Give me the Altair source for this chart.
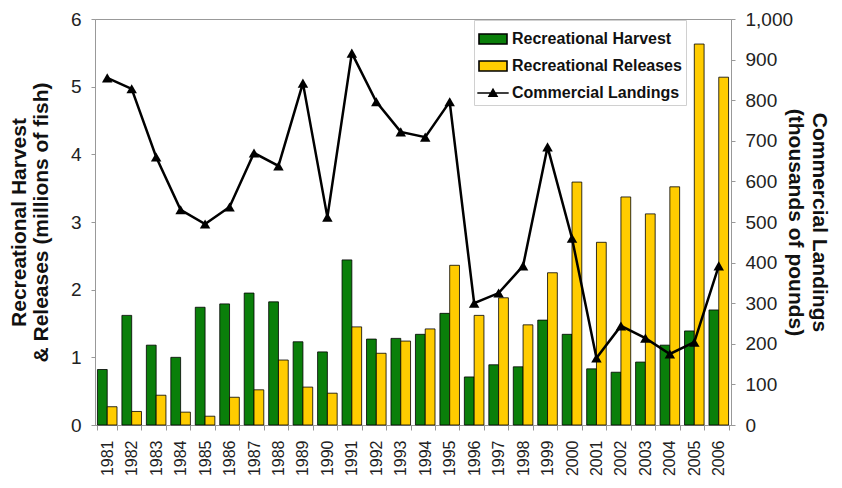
import altair as alt
import pandas as pd

years = [str(y) for y in range(1981, 2007)]
harvest = [0.82, 1.62, 1.18, 1.00, 1.74, 1.79, 1.95, 1.82, 1.23, 1.08, 2.44, 1.27, 1.28,
           1.34, 1.65, 0.71, 0.89, 0.86, 1.55, 1.34, 0.83, 0.78, 0.93, 1.18, 1.39, 1.70]
releases = [0.27, 0.20, 0.44, 0.19, 0.13, 0.41, 0.52, 0.96, 0.56, 0.47, 1.45, 1.06, 1.24,
            1.42, 2.36, 1.62, 1.88, 1.48, 2.25, 3.59, 2.70, 3.37, 3.12, 3.52, 5.63, 5.14]
commercial = [855, 828, 660, 530, 495, 537, 670, 638, 842, 512, 916, 796, 722,
              709, 796, 300, 325, 392, 685, 460, 165, 244, 214, 175, 204, 392]

series = ["Recreational Harvest", "Recreational Releases", "Commercial Landings"]
colors = ["#0a7f0a", "#ffcc00", "#000000"]
rect_path = "M-1,-0.36L1,-0.36L1,0.36L-1,0.36Z"
line_path = "M-1.12,0L1.12,0M-0.28,0.22L0,-0.26L0.28,0.22Z"
shapes = [rect_path, rect_path, line_path]

bars_df = pd.DataFrame({
    "year": years * 2,
    "series": [series[0]] * len(years) + [series[1]] * len(years),
    "value": harvest + releases,
})
line_df = pd.DataFrame({"year": years, "series": series[2], "landings": commercial})

FONT = "Liberation Sans"

x_enc = alt.X("year:O", title=None,
              scale=alt.Scale(paddingInner=0.2, paddingOuter=0.1),
              axis=alt.Axis(labelAngle=-90, labelFontSize=16, labelColor="#222",
                            tickBand="extent", tickSize=5, tickColor="#999",
                            domainColor="#999", labelPadding=10))

legend = alt.Legend(title=None, orient="none", legendX=379, legendY=1,
                    fillColor="white", strokeColor="#d0d0d0", padding=4,
                    labelFontSize=16, labelFontWeight="bold", labelFont=FONT,
                    labelColor="#111", labelLimit=400, symbolSize=784, rowPadding=3,
                    labelOffset=4, symbolStrokeColor="black", symbolStrokeWidth=1.6,
                    symbolOpacity=1)

bars = alt.Chart(bars_df).mark_bar(stroke="black", strokeWidth=0.8).encode(
    x=x_enc,
    xOffset=alt.XOffset("series:N", scale=alt.Scale(domain=series[:2])),
    y=alt.Y("value:Q", scale=alt.Scale(domain=[0, 6]),
            axis=alt.Axis(orient="left", values=[0, 1, 2, 3, 4, 5, 6], grid=False,
                          title=["Recreational Harvest", "& Releases (millions of fish)"],
                          titleFontSize=21, titleFontWeight="bold", titleFont=FONT,
                          titleColor="#111", titlePadding=19, titleLineHeight=22,
                          labelFontSize=19, labelColor="#222", labelPadding=10,
                          tickSize=4, tickColor="#999", domainColor="#999")),
    fill=alt.Fill("series:N", scale=alt.Scale(domain=series, range=colors), legend=legend),
)

line = alt.Chart(line_df).mark_line(
    color="black", strokeWidth=2.5,
    point=alt.OverlayMarkDef(shape="triangle-up", filled=True, color="black", size=110),
).encode(
    x=alt.X("year:O"),
    y=alt.Y("landings:Q", scale=alt.Scale(domain=[0, 1000]),
            axis=alt.Axis(orient="right", values=list(range(0, 1001, 100)), format=",.0f",
                          grid=False,
                          title=["Commercial Landings", "(thousands of pounds)"],
                          titleFontSize=21, titleFontWeight="bold", titleFont=FONT,
                          titleColor="#111", titlePadding=-8, titleLineHeight=24,
                          labelFontSize=19, labelColor="#222", labelPadding=10,
                          tickSize=4, tickColor="#999", domainColor="#999")),
)

legend_layer = alt.Chart(line_df).mark_point(filled=True, opacity=1).encode(
    x=alt.X("year:O"),
    shape=alt.Shape("series:N", scale=alt.Scale(domain=series, range=shapes), legend=legend),
    stroke=alt.Stroke("series:N", scale=alt.Scale(domain=series, range=["black"] * 3),
                      legend=legend),
).transform_filter("false")

chart = alt.layer(bars, line, legend_layer).resolve_scale(y="independent").properties(
    width=636, height=406,
    padding={"left": 87, "top": 11, "right": 103, "bottom": 55},
    autosize=alt.AutoSizeParams(type="none"),
).configure(font=FONT).configure_view(stroke="#999")

chart.save("out.html", embed_options={"renderer": "svg", "actions": False})
